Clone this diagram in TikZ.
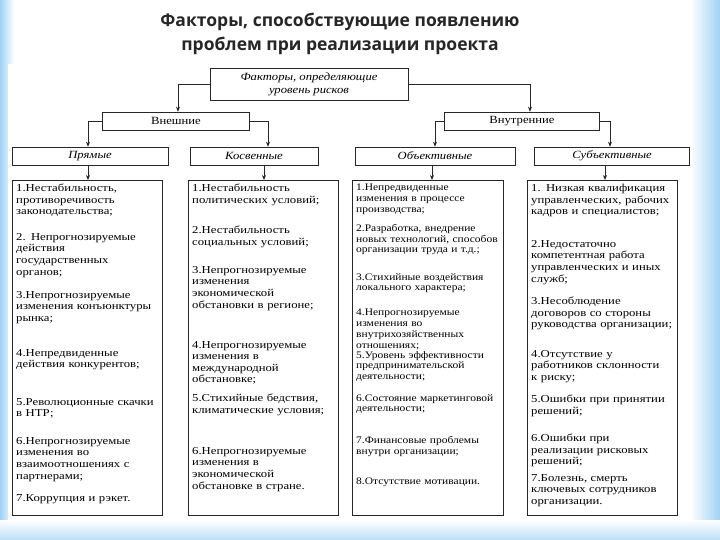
\documentclass[tikz,border=0pt]{standalone}
\usepackage{fontspec}
\setmainfont{Liberation Serif}
\newfontfamily\titlefont{Open Sans}
\usetikzlibrary{arrows.meta}
\definecolor{skyb}{RGB}{160,210,245}
\begin{document}
\begin{tikzpicture}[x=1pt,y=-1pt,
  box/.style={draw=black!85,line width=0.6pt,fill=white,inner sep=0pt},
  hd/.style={font=\fontsize{11}{13}\selectfont\itshape\addfontfeature{FakeStretch=1.15}},
  itm/.style={anchor=north west,inner sep=0pt,text width=142pt,align=left,
    font=\fontsize{10.6}{11.6}\selectfont\addfontfeature{FakeStretch=1.2}},
  itmo/.style={itm,text width=145pt,font=\fontsize{10}{10.8}\selectfont\addfontfeature{FakeStretch=1.15}},
  conn/.style={draw=black!85,line width=0.6pt,-{Stealth[length=5pt,width=4pt]}}]
\useasboundingbox (0,0) rectangle (720,540);
\fill[white] (0,0) rectangle (720,540);
\shade[left color=skyb,right color=white] (0,0) rectangle (14,540);
\shade[left color=white,right color=skyb] (690,0) rectangle (720,540);
\shade[top color=white,bottom color=skyb!70] (0,520) rectangle (720,540);
\fill[white] (8,64) rectangle (690,522);
\node[font=\titlefont\bfseries\fontsize{17.5}{24}\selectfont,align=center,text=black!85] (title) at (340,34) {Факторы, способствующие появлению\\проблем при реализации проекта};
% top
\node[box,minimum width=198pt,minimum height=32pt,align=center,font=\fontsize{11}{13}\selectfont\itshape\addfontfeature{FakeStretch=1.15}] (top) at (309,84) {Факторы, определяющие\\уровень рисков};
\node[box,minimum width=147pt,minimum height=18pt,font=\fontsize{11}{13}\selectfont\addfontfeature{FakeStretch=1.15}] (ext) at (176,121) {Внешние};
\node[box,minimum width=155pt,minimum height=18pt,font=\fontsize{11}{13}\selectfont\addfontfeature{FakeStretch=1.15}] (int) at (522,121) {Внутренние};
\node[box,hd,minimum width=156pt,minimum height=18pt] (pr) at (90,156) {Прямые};
\node[box,hd,minimum width=128pt,minimum height=18pt] (ks) at (254,156) {Косвенные};
\node[box,hd,minimum width=160pt,minimum height=18pt] (ob) at (435,156) {Объективные};
\node[box,hd,minimum width=155pt,minimum height=18pt] (sb) at (612,156) {Субъективные};
\coordinate (c1) at (178,84);\coordinate (c2) at (530,84);
\draw[conn] (top.west) -- (c1) -- (ext.north -| c1);
\draw[conn] (top.east) -- (c2) -- (int.north -| c2);
\coordinate (d1) at (88,121);\coordinate (d2) at (268,121);
\coordinate (d3) at (435,121);\coordinate (d4) at (610,121);
\draw[conn] (ext.west) -- (d1) -- (pr.north -| d1);
\draw[conn] (ext.east) -- (d2) -- (ks.north -| d2);
\draw[conn] (int.west) -- (d3) -- (ob.north -| d3);
\draw[conn] (int.east) -- (d4) -- (sb.north -| d4);
% lower boxes
\draw[box] (12,180) rectangle (162,515);
\draw[box] (188,180) rectangle (338,515);
\draw[box] (352,180) rectangle (503,515);
\draw[box] (527,180) rectangle (677,515);
\coordinate (B1) at (88,180);\coordinate (B2) at (264,180);
\coordinate (B3) at (432,180);\coordinate (B4) at (605,180);
\draw[conn] (pr.south -| B1) -- (B1);
\draw[conn] (ks.south -| B2) -- (B2);
\draw[conn] (ob.south -| B3) -- (B3);
\draw[conn] (sb.south -| B4) -- (B4);
% Прямые
\node[itm] (p1) at (16,184) {1.Нестабильность, противоречивость законодательства;};
\node[itm] (p2) at (16,233) {2. Непрогнозируемые действия государственных органов;};
\node[itm] (p3) at (16,291) {3.Непрогнозируемые изменения конъюнктуры рынка;};
\node[itm] (p4) at (16,349) {4.Непредвиденные действия конкурентов;};
\node[itm] (p5) at (16,398) {5.Революционные скачки в НТР;};
\node[itm] (p6) at (16,437) {6.Непрогнозируемые изменения во взаимоотношениях с партнерами;};
\node[itm] (p7) at (16,494) {7.Коррупция и рэкет.};
% Косвенные
\node[itm] (k1) at (192,184) {1.Нестабильность политических условий;};
\node[itm] (k2) at (192,226) {2.Нестабильность социальных условий;};
\node[itm] (k3) at (192,266) {3.Непрогнозируемые изменения экономической обстановки в регионе;};
\node[itm] (k4) at (192,341) {4.Непрогнозируемые изменения в международной обстановке;};
\node[itm] (k5) at (192,394) {5.Стихийные бедствия, климатические условия;};
\node[itm] (k6) at (192,447) {6.Непрогнозируемые изменения в экономической обстановке в стране.};
% Объективные
\node[itmo] (o1) at (356,184) {1.Непредвиденные изменения в процессе производства;};
\node[itmo] (o2) at (356,224) {2.Разработка, внедрение новых технологий, способов организации труда и т.д.;};
\node[itmo] (o3) at (356,273) {3.Стихийные воздействия локального характера;};
\node[itmo] (o4) at (356,309) {4.Непрогнозируемые изменения во внутрихозяйственных отношениях;};
\node[itmo] (o5) at (356,351) {5.Уровень эффективности предпринимательской деятельности;};
\node[itmo] (o6) at (356,394) {6.Состояние маркетинговой деятельности;};
\node[itmo] (o7) at (356,436) {7.Финансовые проблемы внутри организации;};
\node[itmo] (o8) at (356,478) {8.Отсутствие мотивации.};
% Субъективные
\node[itm] (s1) at (531,184) {1. Низкая квалификация управленческих, рабочих кадров и специалистов;};
\node[itm] (s2) at (531,240) {2.Недостаточно компетентная работа управленческих и иных служб;};
\node[itm] (s3) at (531,297) {3.Несоблюдение договоров со стороны руководства организации;};
\node[itm] (s4) at (531,350) {4.Отсутствие у работников склонности к риску;};
\node[itm] (s5) at (531,395) {5.Ошибки при принятии решений;};
\node[itm] (s6) at (531,434) {6.Ошибки при реализации рисковых решений;};
\node[itm] (s7) at (531,474) {7.Болезнь, смерть ключевых сотрудников организации.};
\end{tikzpicture}
\end{document}
